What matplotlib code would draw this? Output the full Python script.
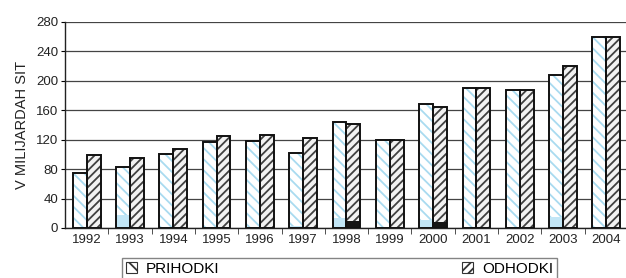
import numpy as np
import matplotlib.pyplot as plt
from matplotlib.patches import Patch

plt.rcParams['font.family'] = ['Liberation Sans', 'DejaVu Sans']
plt.rcParams['hatch.linewidth'] = 1.3

years = ['1992', '1993', '1994', '1995', '1996', '1997', '1998',
         '1999', '2000', '2001', '2002', '2003', '2004']
prihodki = [74.5, 83.5, 100, 117.5, 118.5, 101.5, 143.5, 119, 168, 190, 188, 208, 259]
odhodki = [99, 95.5, 107.5, 125, 127, 122.5, 141.5, 119, 165, 190, 188, 220, 259]
# small base segments seen at the bottom of some bars
prihodki_base = [1, 17, 1, 0, 0, 3, 13.5, 0, 10.5, 0, 0, 15.5, 0]
odhodki_base = [0, 0, 0, 0, 0, 0, 9, 0, 7.5, 0, 0, 0, 0]

fig = plt.figure(figsize=(6.26, 2.78), dpi=100)
ax = fig.add_axes([0.104, 0.180, 0.899, 0.741])

x = np.arange(len(years))
w = 0.32

# PRIHODKI: light blue hatch on white
ax.bar(x - w / 2, prihodki, w, color='white', edgecolor='#a9dbf0', hatch='\\\\\\', linewidth=0, zorder=2)
ax.bar(x - w / 2, prihodki_base, w, color='#c2e6f6', linewidth=0, zorder=3)
ax.bar(x - w / 2, prihodki, w, fill=False, edgecolor='#111111', linewidth=1.4, zorder=4)

# ODHODKI: dark hatch
ax.bar(x + w / 2, odhodki, w, color='#f2f2f2', edgecolor='#404040', hatch='////', linewidth=0, zorder=2)
ax.bar(x + w / 2, odhodki_base, w, color='#151515', linewidth=0, zorder=3)
ax.bar(x + w / 2, odhodki, w, fill=False, edgecolor='#111111', linewidth=1.4, zorder=4)

ax.set_xlim(-0.5, len(years) - 0.5)
ax.set_ylim(0, 280)
ax.set_yticks(np.arange(0, 281, 40))
ax.set_xticks(x)
ax.set_xticklabels(years, fontsize=9.5, color='#222222')
ax.set_xticks(np.arange(0.5, len(years) - 0.5, 1), minor=True)
ax.tick_params(axis='x', which='major', length=0, pad=4)
ax.tick_params(axis='x', which='minor', length=4, direction='out', color='#333333')
ax.tick_params(axis='y', length=3, labelsize=9.5, labelcolor='#222222', pad=2)

ax.grid(axis='y', color='#444444', linewidth=0.9, zorder=0)
ax.set_axisbelow(True)
for s in ['top', 'right']:
    ax.spines[s].set_visible(False)
ax.spines['left'].set_color('#222222')
ax.spines['bottom'].set_color('#222222')
ax.spines['left'].set_linewidth(1.0)
ax.spines['bottom'].set_linewidth(1.0)

ax.set_ylabel('V MILIJARDAH SIT', fontsize=10.5, color='#222222', labelpad=5)

handles = [Patch(facecolor='white', edgecolor='#333333', hatch='\\\\', linewidth=0.8),
           Patch(facecolor='white', edgecolor='#333333', hatch='////', linewidth=0.8)]
leg = fig.legend(handles, ['PRIHODKI', 'ODHODKI'], loc='upper left',
                 bbox_to_anchor=(0.195, -0.2, 0.695, 0.272), mode='expand', ncol=2,
                 fontsize=11, frameon=True, fancybox=False, edgecolor='#666666',
                 handlelength=0.7, handleheight=0.7, handletextpad=0.6,
                 borderpad=0.25, borderaxespad=0)
leg.get_frame().set_linewidth(1.0)

fig.savefig('out.png', dpi=100)
